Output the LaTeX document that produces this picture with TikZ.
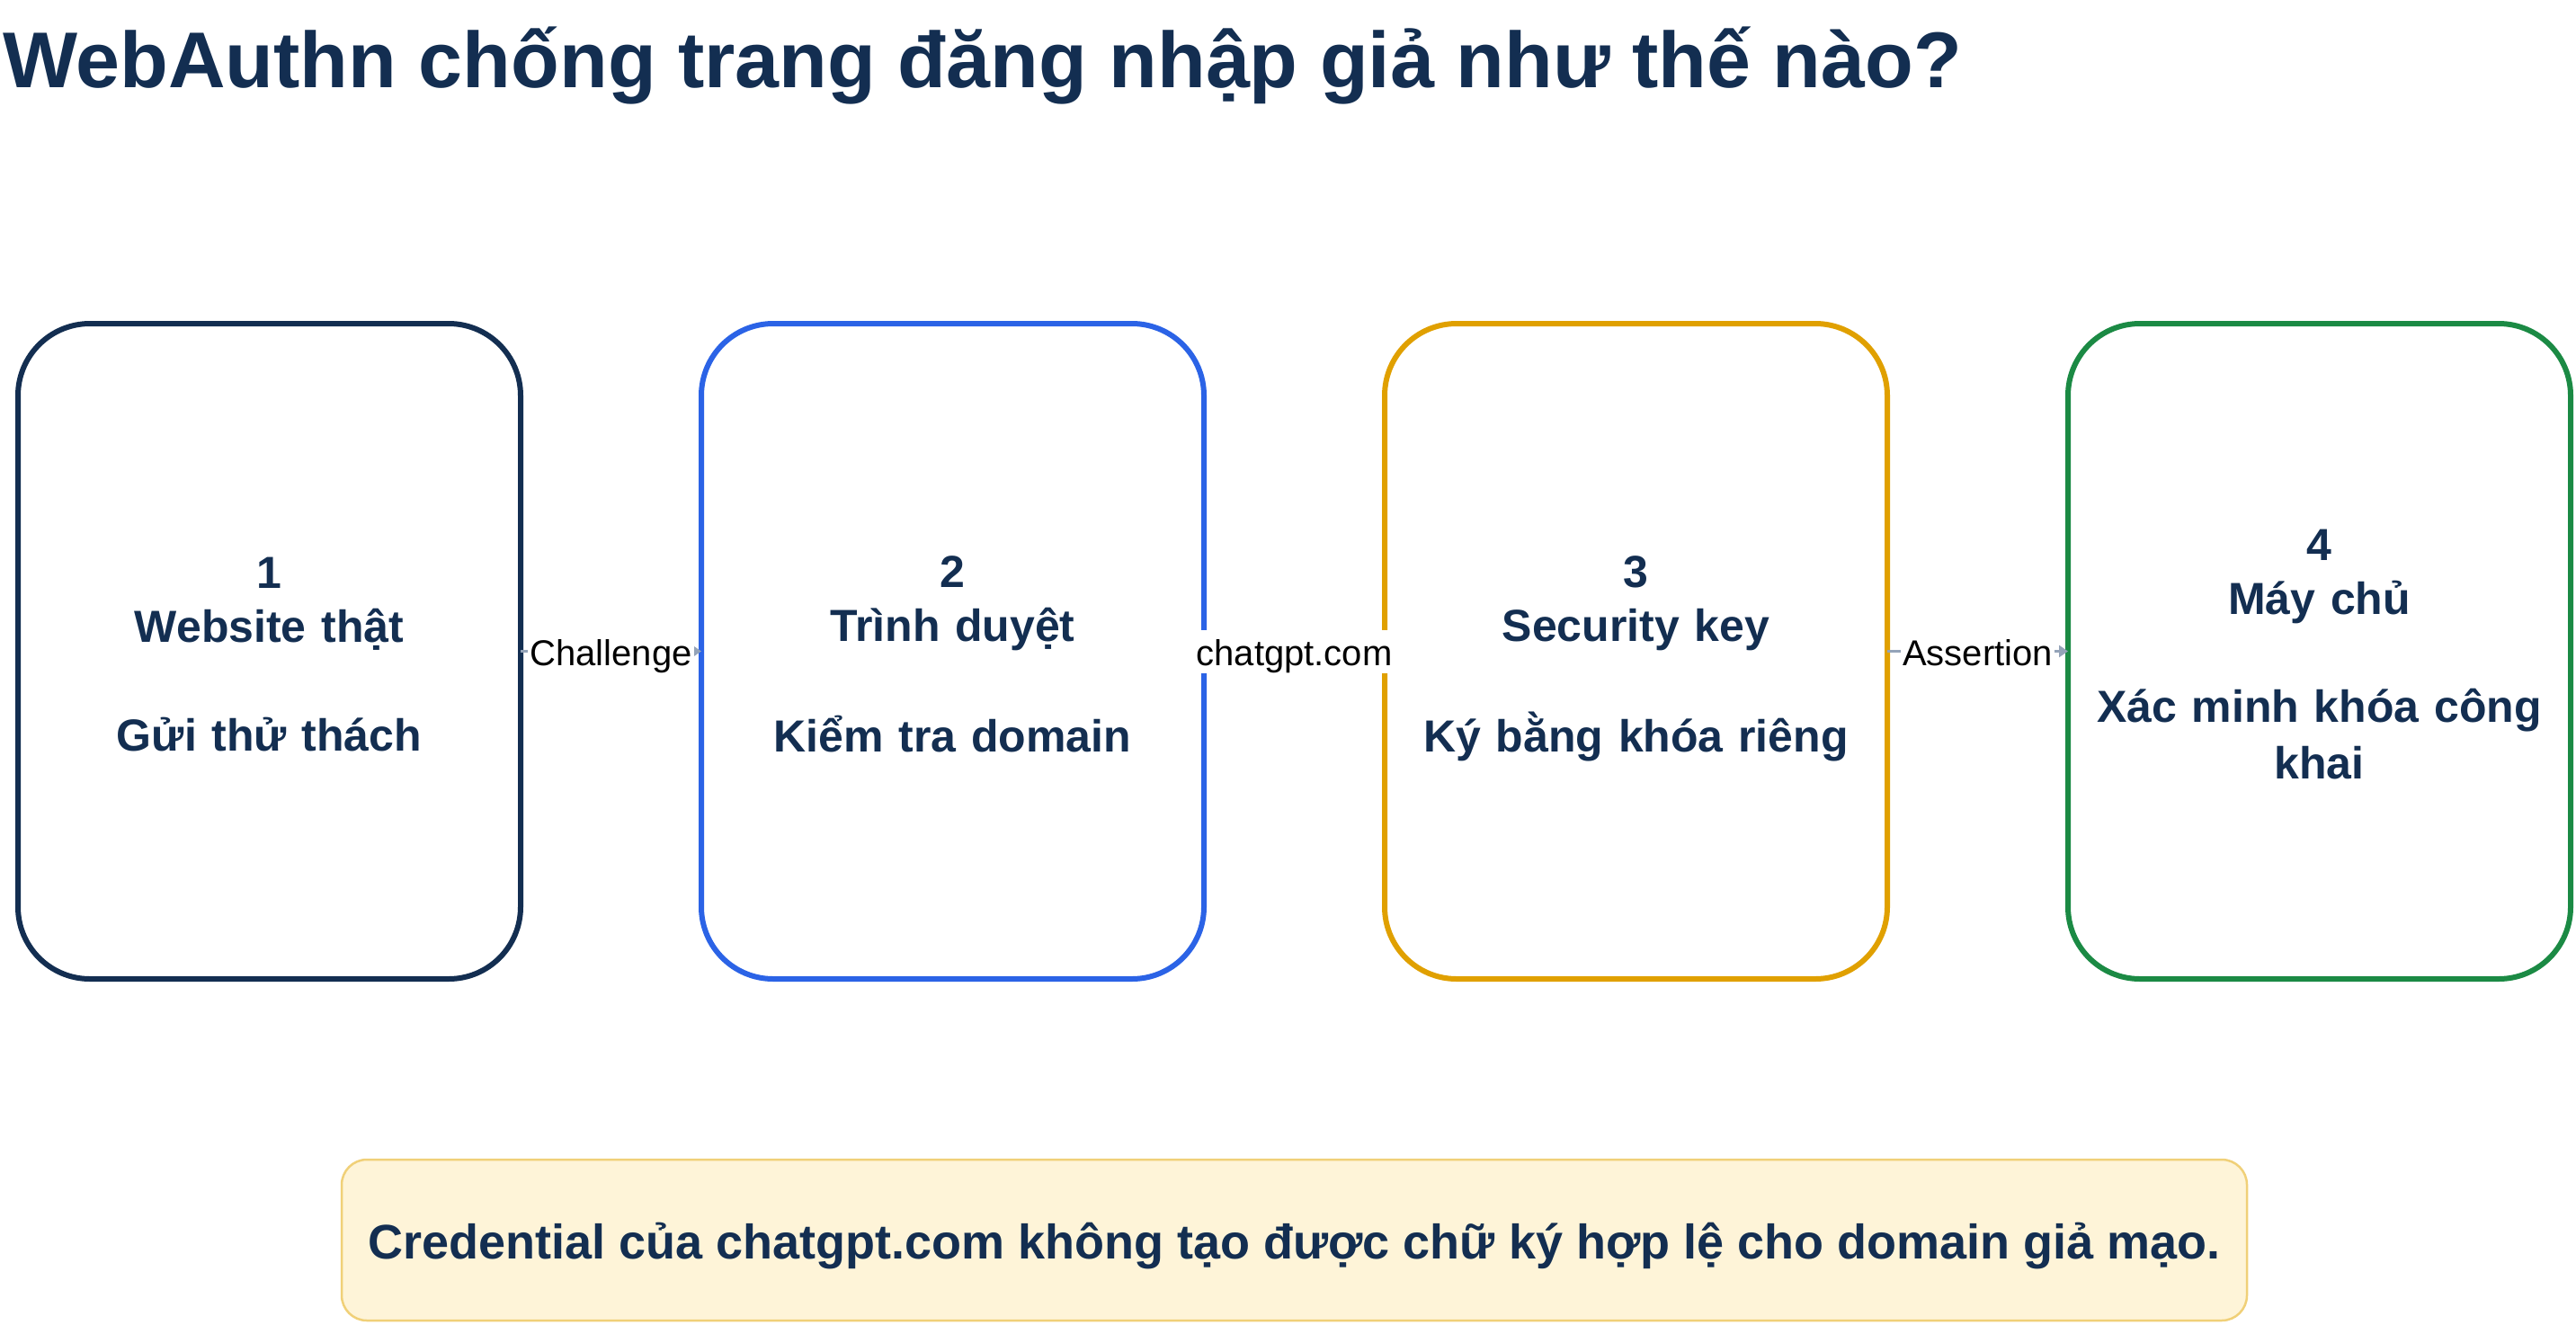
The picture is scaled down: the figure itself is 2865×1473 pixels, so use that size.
\documentclass[tikz,border=0pt]{standalone}
\usepackage{fontspec}
\setmainfont{Liberation Sans}
\usetikzlibrary{positioning,arrows.meta}
\definecolor{navy}{HTML}{132E51}
\definecolor{blueline}{HTML}{2B63E6}
\definecolor{amber}{HTML}{E0A000}
\definecolor{leaf}{HTML}{1B8A44}
\definecolor{arrowgrey}{HTML}{94A3B8}
\definecolor{notefill}{HTML}{FEF4D8}
\definecolor{noteline}{HTML}{F0D078}
\newcommand{\linestrut}{\rule[-11pt]{0pt}{63pt}}
\begin{document}
\begin{tikzpicture}[x=1pt,y=-1pt,
	stepbox/.style={draw=#1,line width=6pt,rounded corners=80pt,outer sep=0pt,
	minimum width=559pt,minimum height=729pt,text width=530pt,align=center,
	text=navy,font=\fontsize{50}{60}\selectfont\bfseries},
	flow/.style={arrowgrey,line width=2.5pt,-{Triangle[length=10pt,width=13pt]}},
	tag/.style={fill=white,inner sep=2pt,text height=38pt,text depth=6pt,
	text=black,font=\fontsize{40}{46}\selectfont},
	node distance=201pt]
\useasboundingbox (0,0) rectangle (2865,1473);
\node[anchor=base west,inner sep=0pt,text=navy,font=\fontsize{88}{100}\selectfont\bfseries]
	(title) at (3,97) {WebAuthn chống trang đăng nhập giả như thế nào?};
\node[stepbox=navy] (s1) at (299.5,724.5) {\linestrut 1\\Website thật\\[60pt]Gửi thử thách\linestrut};
\node[stepbox=blueline,right=of s1] (s2) {\linestrut 2\\Trình duyệt\\[60pt]Kiểm tra domain\linestrut};
\node[stepbox=amber,right=of s2] (s3) {\linestrut 3\\Security key\\[60pt]Ký bằng khóa riêng\linestrut};
\node[stepbox=leaf,right=of s3] (s4) {\linestrut 4\\Máy chủ\\[60pt]Xác minh khóa công\\khai\linestrut};
\draw[flow] (s1) -- node[tag] {Challenge} (s2);
\draw[flow] (s2) -- node[tag] {chatgpt.com} (s3);
\draw[flow] (s3) -- node[tag] {Assertion} (s4);
\node[draw=noteline,fill=notefill,line width=2.5pt,rounded corners=28pt,
	minimum width=2119pt,minimum height=179pt,text=navy,text height=52pt,text depth=11pt,
	font=\fontsize{54}{64}\selectfont\bfseries]
	(note) at (1439.5,1379.5) {Credential của chatgpt.com không tạo được chữ ký hợp lệ cho domain giả mạo.};
\end{tikzpicture}
\end{document}
